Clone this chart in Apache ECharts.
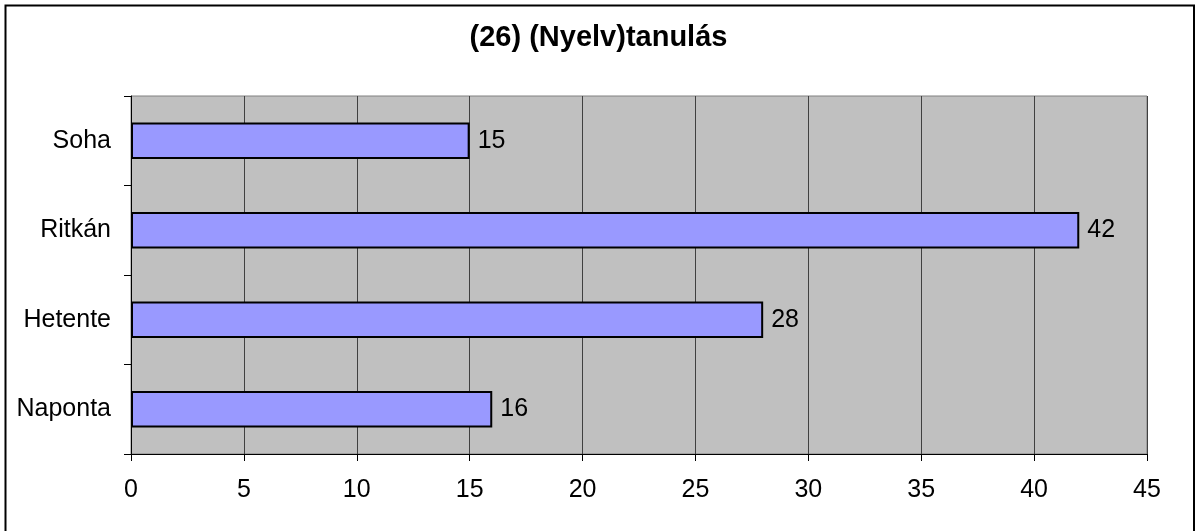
<!DOCTYPE html>
<html><head><meta charset="utf-8">
<script src="https://cdn.jsdelivr.net/npm/echarts@6/dist/echarts.min.js"></script>
<style>html,body{margin:0;padding:0;background:#fff}#c{width:1197px;height:531px}</style>
</head><body><div id="c"></div>
<script>
const title = '(26) (Nyelv)tanulás';
const categories = ['Naponta', 'Hetente', 'Ritkán', 'Soha'];
const values = [16, 28, 42, 15];
const xTicks = [0, 5, 10, 15, 20, 25, 30, 35, 40, 45];

const chart = echarts.init(document.getElementById('c'), null, {renderer: 'canvas'});
const FONT = '"Liberation Sans", Arial, sans-serif';
chart.setOption({
  animation: false,
  backgroundColor: '#fff',
  graphic: [{
    type: 'rect', shape: {x: 5.5, y: 5.5, width: 1188.5, height: 540},
    style: {fill: 'none', stroke: '#000', lineWidth: 2}, z: -1
  }],
  title: {
    text: title, left: 'center', top: 18,
    textStyle: {fontFamily: FONT, fontWeight: 'bold', fontSize: 29, color: '#000'}
  },
  grid: {left: 131, right: 50, top: 96, bottom: 77, show: true, backgroundColor: '#c0c0c0', borderColor: '#808080', borderWidth: 1},
  xAxis: {
    type: 'value', min: xTicks[0], max: xTicks[xTicks.length - 1], interval: 5,
    axisLine: {show: true, lineStyle: {color: '#000', width: 1}},
    axisTick: {show: true, length: 7, lineStyle: {color: '#000'}},
    splitLine: {show: true, lineStyle: {color: '#404040', width: 1}},
    axisLabel: {fontFamily: FONT, fontSize: 25, color: '#000', margin: 24}
  },
  yAxis: {
    type: 'category', data: categories,
    axisLine: {show: true, lineStyle: {color: '#000', width: 1}},
    axisTick: {show: true, length: 7, lineStyle: {color: '#000'}},
    axisLabel: {fontFamily: FONT, fontSize: 25, color: '#000', margin: 20}
  },
  series: [{
    type: 'bar', data: values, barWidth: '41%',
    itemStyle: {color: '#9999ff', borderColor: '#000', borderWidth: 2},
    label: {show: true, position: 'right', distance: 8, fontFamily: FONT, fontSize: 25, color: '#000'}
  }]
});
</script></body></html>
